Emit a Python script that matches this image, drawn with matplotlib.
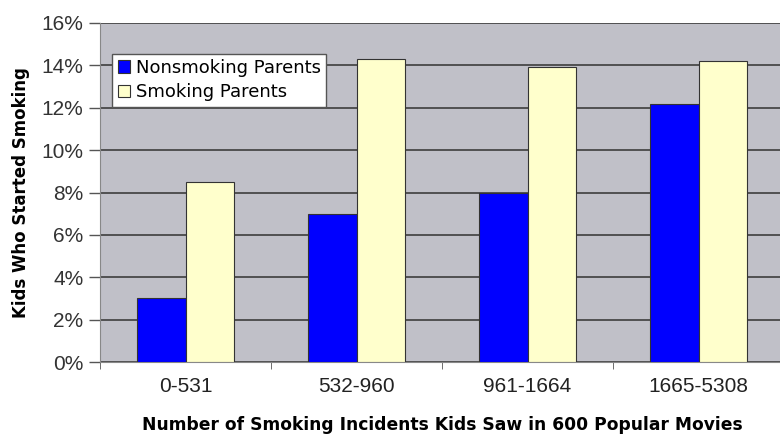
import numpy as np
import matplotlib.pyplot as plt
from matplotlib.ticker import FuncFormatter

# data
groups = ['0-531', '532-960', '961-1664', '1665-5308']
nonsmoking = [3.0, 7.0, 8.0, 12.2]
smoking = [8.5, 14.3, 13.9, 14.2]
series_names = ['Nonsmoking Parents', 'Smoking Parents']

fig = plt.figure(figsize=(7.8, 4.34), dpi=100)
ax = fig.add_axes([100/780, 72/434, 684/780, 339/434])
ax.set_facecolor('#C0C0C8')

x = np.arange(len(groups))
w = 0.284
ax.bar(x - 0.142, nonsmoking, w, color='#0000FF', edgecolor='#333333',
       linewidth=0.8, label=series_names[0], zorder=3)
ax.bar(x + 0.142, smoking, w, color='#FFFFCC', edgecolor='#333333',
       linewidth=0.8, label=series_names[1], zorder=3)

ax.set_xlim(-0.5, 3.5)
ax.set_ylim(0, 16)
ax.set_yticks(np.arange(0, 17, 2))
ax.yaxis.set_major_formatter(FuncFormatter(lambda v, p: '%d%%' % v))
ax.grid(axis='y', color='#484848', linewidth=1.3, zorder=1)

# category labels centred, tick marks between groups
ax.set_xticks(x)
ax.set_xticklabels(groups)
ax.set_xticks(np.arange(-0.5, 4, 1), minor=True)
ax.tick_params(axis='x', which='major', length=0, pad=11, labelsize=15,
               labelcolor='#222222')
ax.tick_params(axis='x', which='minor', length=5, color='#555555')
ax.tick_params(axis='y', length=8, color='#555555', width=1, labelsize=15,
               labelcolor='#333333', pad=4)
for lab in ax.get_xticklabels() + ax.get_yticklabels():
    lab.set_family('Liberation Sans')

for s in ['top', 'right']:
    ax.spines[s].set_visible(False)
ax.spines['left'].set_color('#888888')
ax.spines['bottom'].set_color('#888888')

ax.set_xlabel('Number of Smoking Incidents Kids Saw in 600 Popular Movies',
              fontsize=12.3, fontweight='bold', family='DejaVu Sans', labelpad=14)
ax.set_ylabel('Kids Who Started Smoking', fontsize=12, fontweight='bold',
              family='DejaVu Sans', labelpad=8)

leg = ax.legend(loc='upper left', bbox_to_anchor=(0.018, 0.91), fancybox=False,
                framealpha=1, edgecolor='#555555',
                prop={'family': 'DejaVu Sans', 'size': 13},
                handlelength=0.7, handleheight=0.7, handletextpad=0.3,
                borderpad=0.3, labelspacing=0.35, borderaxespad=0)
leg.get_frame().set_linewidth(1.0)
leg.set_zorder(5)

fig.savefig('out.png', dpi=100)
